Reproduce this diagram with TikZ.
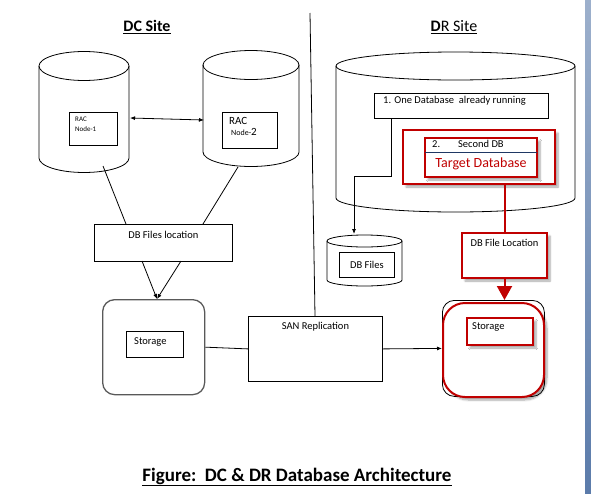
\documentclass[tikz,border=0pt]{standalone}
\usepackage{fontspec}
\setmainfont{Carlito}
\usetikzlibrary{arrows.meta,positioning,shadows.blur}
\definecolor{rojo}{HTML}{C00000}
\definecolor{marco}{HTML}{5B7BAA}
\definecolor{azulosc}{HTML}{1F3864}

\tikzset{
  caja/.style={draw, line width=0.8pt, minimum width=#1, anchor=north west},
  cajaroja/.style={draw=rojo, line width=2pt, fill=white, anchor=north west,
    blur shadow={shadow xshift=3pt, shadow yshift=-3pt, shadow blur steps=6, shadow opacity=35}},
  texto/.style={inner sep=0pt, font=\fontsize{10.5}{12}\selectfont},
  titulo/.style={inner sep=0pt, font=\fontsize{16}{19}\selectfont},
  punta/.style={-{Latex[length=5pt,width=4pt]}},
}

% cilindro: x1, x2, y arriba, y abajo, radio y
\newcommand{\cilindro}[5]{%
  \draw[line width=0.8pt] (#1,#3) -- (#1,#4)
    arc[start angle=180, end angle=0, x radius={(#2-#1)/2}, y radius=#5] -- (#2,#3);
  \draw[line width=0.8pt] ({(#1+#2)/2},#3) ellipse[x radius={(#2-#1)/2}, y radius=#5];
}

\begin{document}
\begin{tikzpicture}[x=1pt, y=-1pt]
    \useasboundingbox (0,0) rectangle (591,493);
    % Borde de la ventana
    \shade[top color=marco!60, bottom color=marco] (585,0) rectangle (591,493);

    % Titulos
    \node[titulo] (dc) at (147,27) {\underline{\textbf{DC Site}}};
    \node[titulo] (dr) at (454,27) {\underline{\textbf{D}R Site}};
    \draw[line width=0.8pt] (310,13) -- (315,316);

    % Nodos RAC
    \cilindro{39}{129}{66}{158}{14.5}
    \cilindro{203}{299}{65}{152}{14.5}
    \node[caja=48, minimum height=33] (rac1) at (69,112) {};
    \node[texto, anchor=north west, align=left, font=\fontsize{7}{10}\selectfont]
      at ([shift={(6,5)}]rac1.north west) {RAC\\Node-1};
    \node[caja=55, minimum height=36] (rac2) at (222,112) {};
    \node[texto, anchor=north west, align=left, font=\fontsize{11}{13}\selectfont]
      at ([shift={(7,5)}]rac2.north west) {RAC\\[-2pt]\hspace{2pt}{\fontsize{8}{10}\selectfont Node-}2};
    \draw[{Latex[length=5pt,width=4pt]}-{Latex[length=5pt,width=4pt]}, line width=0.8pt]
      (130,118) coordinate (c1d) -- (204,120) coordinate (c2i);

    % Ubicacion de archivos
    \node[caja=138, minimum height=37] (loc) at (94,224) {};
    \node[texto] at ([yshift=-11]loc.north) {DB Files location};
    \coordinate (c1b) at (103,166);
    \coordinate (c2b) at (238,167);
    \draw[line width=0.8pt] (c1b) -- (126,224);
    \draw[line width=0.8pt] (c2b) -- (203,224);

    % Storage DC
    \node[draw=black!65, line width=1.3pt, rounded corners=12pt, minimum width=102,
      minimum height=95, anchor=north west] (sto1) at (102,299) {};
    \node[caja=57, minimum height=26] (sto1in) at (126,331) {};
    \node[texto, anchor=north west] at ([shift={(8,6)}]sto1in.north west) {Storage};
    \draw[punta, line width=0.8pt] (142,261) -- (sto1.north -| 157,0);
    \draw[punta, line width=0.8pt] (181,261) -- (sto1.north -| 157,0);

    % SAN
    \node[caja=134, minimum height=65] (san) at (248,316) {};
    \node[texto] at ([yshift=-11]san.north) {SAN Replication};
    \draw[line width=0.8pt] (sto1.east) -- (san.west);

    % Sitio DR
    \cilindro{336}{575}{66}{198}{14}
    \node[caja=174, minimum height=25] (uno) at (374,93) {};
    \node[texto, anchor=north west] at ([shift={(9,3)}]uno.north west) {1. One Database\ \ already running};
    \node[cajaroja, minimum width=152, minimum height=54] (rojo1) at (402,129) {};
    \node[cajaroja, minimum width=112, minimum height=39] (target) at (424,137) {};
    \draw[azulosc, line width=0.6pt] ([shift={(1,15)}]target.north west) -- ([shift={(-1,15)}]target.north east);
    \node[texto, anchor=north west] at ([shift={(8,3)}]target.north west) {2.\hspace{18pt}Second DB};
    \node[texto, text=rojo, font=\fontsize{14}{16}\selectfont] at ([yshift=-27]target.north) {Target Database};

    % Archivos DB
    \cilindro{327}{402}{241}{280}{6}
    \node[caja=55, minimum height=25] (dbf) at (339,252) {};
    \node[texto] at (dbf.center) {DB Files};
    \draw[punta, line width=0.8pt] ([xshift=17]uno.south west) |- (354,176) -- (354,234);

    % Ubicacion DR
    \node[cajaroja, minimum width=85, minimum height=45] (loc2) at (461,232) {};
    \node[texto] at ([yshift=-11]loc2.north) {DB File Location};
    \draw[rojo, line width=2pt] (rojo1.south -| loc2.north) -- (loc2.north);

    % Storage DR
    \node[draw, line width=0.8pt, rounded corners=12pt, minimum width=102,
      minimum height=96, anchor=north west] (sto2) at (442,300) {};
    \node[draw=rojo, fill=white, line width=2pt, rounded corners=22pt, minimum width=101,
      minimum height=94, anchor=north west,
      blur shadow={shadow xshift=3pt, shadow yshift=-3pt, shadow blur steps=6, shadow opacity=35}] (sto2r) at (442,302) {};
    \node[cajaroja, minimum width=66, minimum height=27] (sto2in) at (466,317) {};
    \node[texto, anchor=north west] at ([shift={(6,5)}]sto2in.north west) {Storage};
    \draw[rojo, line width=2pt, -{Triangle[length=14pt,width=15pt]}] (loc2.south) -- (loc2.south |- sto2.north);
    \draw[punta, line width=0.8pt] (san.east) -- (sto2.west);

    % Pie
    \node[titulo, font=\fontsize{19}{22}\selectfont\bfseries] (pie) at (297,477)
      {\underline{Figure:\ \ DC \& DR Database Architecture}};
\end{tikzpicture}
\end{document}
